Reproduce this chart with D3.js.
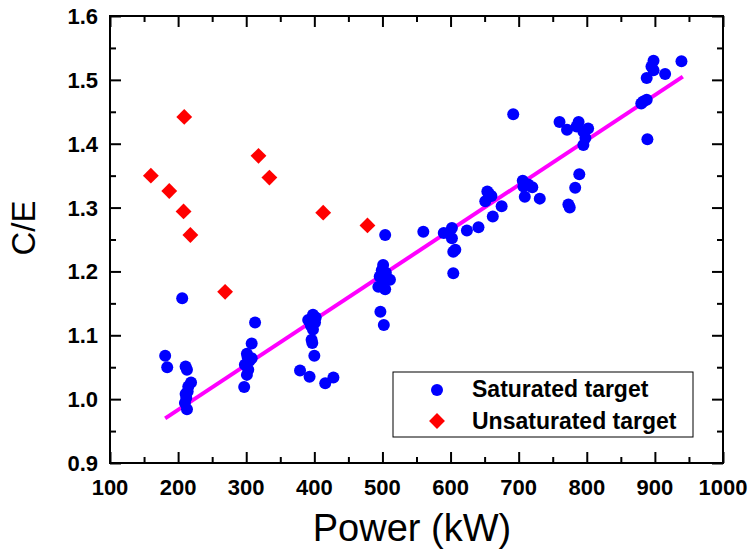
<!DOCTYPE html>
<html>
<head>
<meta charset="utf-8">
<script src="https://cdn.jsdelivr.net/npm/d3@7"></script>
<style>
  html, body { margin: 0; padding: 0; background: #fff; }
  svg { display: block; }
  text { font-family: Arial, "Liberation Sans", sans-serif; fill: #000; }
</style>
</head>
<body>
<svg id="chart" width="750" height="552"></svg>
<script>
// Saturated target measurements: power (kW) and C/E ratio
const satPower = [
  181, 184, 206, 211, 213, 219, 214, 212, 210, 213, 215, 211,
  313, 308, 301, 308, 298, 303, 301, 297, 305, 302,
  398, 391, 402, 398, 396, 397, 400, 379, 393, 416, 428, 395, 401,
  504, 501, 499, 496, 511, 494, 504, 497, 502, 505, 500,
  560, 590, 602, 602, 607, 604, 604, 624, 641, 662, 675, 651, 656, 660, 654, 692,
  707, 714, 709, 706, 720, 731, 760, 771, 788, 785, 802, 795, 798, 795, 789, 783, 773, 775,
  898, 895, 898, 915, 888, 939, 883, 888, 889, 880
];
const satCE = [
  1.068, 1.050, 1.158, 1.051, 1.046, 1.026, 1.012, 1.002, 0.994, 0.984, 1.020, 1.008,
  1.120, 1.087, 1.071, 1.064, 1.054, 1.046, 1.038, 1.019, 1.060, 1.066,
  1.132, 1.124, 1.128, 1.109, 1.093, 1.088, 1.068, 1.045, 1.035, 1.025, 1.034, 1.115, 1.120,
  1.257, 1.210, 1.202, 1.192, 1.187, 1.176, 1.172, 1.137, 1.116, 1.198, 1.180,
  1.262, 1.260, 1.268, 1.252, 1.234, 1.231, 1.197, 1.264, 1.269, 1.286, 1.302, 1.310, 1.322, 1.318, 1.325, 1.446,
  1.333, 1.336, 1.317, 1.342, 1.332, 1.314, 1.434, 1.422, 1.434, 1.427, 1.424, 1.419, 1.409, 1.398, 1.352, 1.331, 1.305, 1.300,
  1.530, 1.521, 1.515, 1.509, 1.503, 1.529, 1.466, 1.469, 1.407, 1.463
];

// Unsaturated target measurements
const unsatPower = [160, 187, 208, 209, 218, 269, 318, 334, 413, 478];
const unsatCE    = [1.350, 1.326, 1.294, 1.442, 1.257, 1.168, 1.381, 1.347, 1.292, 1.272];

// Linear fit through the saturated data (end points)
const fitPower = [181, 941];
const fitCE    = [0.970, 1.505];

// Axis ticks
const xTicks = [100, 200, 300, 400, 500, 600, 700, 800, 900, 1000];
const yTicks = [0.9, 1.0, 1.1, 1.2, 1.3, 1.4, 1.5, 1.6];

const legendLabels = ["Saturated target", "Unsaturated target"];

const svg = d3.select("#chart");
const plot = { left: 110, right: 723, top: 16, bottom: 463 };

const x = d3.scaleLinear().domain([100, 1000]).range([plot.left, plot.right]);
const y = d3.scaleLinear().domain([0.9, 1.6]).range([plot.bottom, plot.top]);

const majorLen = 11, minorLen = 6;
const xMinor = d3.range(150, 1000, 100);
const yMinor = d3.range(0.95, 1.6, 0.1);

// Inward ticks on all four sides
function drawAxis(axisGen, tx, ty, ticks, len, cls) {
  svg.append("g")
    .attr("class", cls)
    .attr("transform", `translate(${tx},${ty})`)
    .call(axisGen.tickValues(ticks).tickSize(len).tickFormat(""))
    .call(g => g.select(".domain").remove())
    .call(g => g.selectAll("line").attr("stroke", "#000").attr("stroke-width", 2));
}
drawAxis(d3.axisTop(x), 0, plot.bottom, xTicks, majorLen, "xb");
drawAxis(d3.axisTop(x), 0, plot.bottom, xMinor, minorLen, "xbm");
drawAxis(d3.axisBottom(x), 0, plot.top, xTicks, majorLen, "xt");
drawAxis(d3.axisBottom(x), 0, plot.top, xMinor, minorLen, "xtm");
drawAxis(d3.axisRight(y), plot.left, 0, yTicks, majorLen, "yl");
drawAxis(d3.axisRight(y), plot.left, 0, yMinor, minorLen, "ylm");
drawAxis(d3.axisLeft(y), plot.right, 0, yTicks, majorLen, "yr");
drawAxis(d3.axisLeft(y), plot.right, 0, yMinor, minorLen, "yrm");

// Frame
svg.append("rect")
  .attr("x", plot.left).attr("y", plot.top)
  .attr("width", plot.right - plot.left).attr("height", plot.bottom - plot.top)
  .attr("fill", "none").attr("stroke", "#000").attr("stroke-width", 2);

// Tick labels
svg.append("g").selectAll("text").data(xTicks).join("text")
  .attr("x", d => x(d)).attr("y", 495)
  .attr("text-anchor", "middle")
  .attr("font-size", 22).attr("font-weight", "bold")
  .text(d => d);

svg.append("g").selectAll("text").data(yTicks).join("text")
  .attr("x", 98).attr("y", d => y(d) + 8)
  .attr("text-anchor", "end")
  .attr("font-size", 22).attr("font-weight", "bold")
  .text(d => d.toFixed(1));

// Axis titles
svg.append("text")
  .attr("x", 412).attr("y", 541)
  .attr("text-anchor", "middle").attr("font-size", 38)
  .text("Power (kW)");

svg.append("text")
  .attr("transform", "translate(35,228) rotate(-90)")
  .attr("text-anchor", "middle").attr("font-size", 33)
  .text("C/E");

// Fit line
const line = d3.line().x(d => x(d[0])).y(d => y(d[1]));
svg.append("path")
  .datum(d3.zip(fitPower, fitCE))
  .attr("d", line)
  .attr("fill", "none").attr("stroke", "#ff00ff").attr("stroke-width", 4);

// Saturated points
svg.append("g").selectAll("circle").data(d3.zip(satPower, satCE)).join("circle")
  .attr("cx", d => x(d[0])).attr("cy", d => y(d[1])).attr("r", 6)
  .attr("fill", "#0000ff");

// Unsaturated points
const diamond = d3.symbol().type(d3.symbolDiamond2).size(160);
svg.append("g").selectAll("path").data(d3.zip(unsatPower, unsatCE)).join("path")
  .attr("transform", d => `translate(${x(d[0])},${y(d[1])})`)
  .attr("d", diamond)
  .attr("fill", "#ff0000");

// Legend
const lg = svg.append("g");
lg.append("rect")
  .attr("x", 393).attr("y", 372).attr("width", 300).attr("height", 65)
  .attr("fill", "#fff").attr("stroke", "#000").attr("stroke-width", 1);
lg.append("circle").attr("cx", 437).attr("cy", 390).attr("r", 6).attr("fill", "#0000ff");
lg.append("path").attr("transform", "translate(437,421)").attr("d", diamond).attr("fill", "#ff0000");
lg.selectAll("text").data(legendLabels).join("text")
  .attr("x", 472).attr("y", (d, i) => 397 + i * 32)
  .attr("font-size", 23).attr("font-weight", "bold")
  .text(d => d);
</script>
</body>
</html>
